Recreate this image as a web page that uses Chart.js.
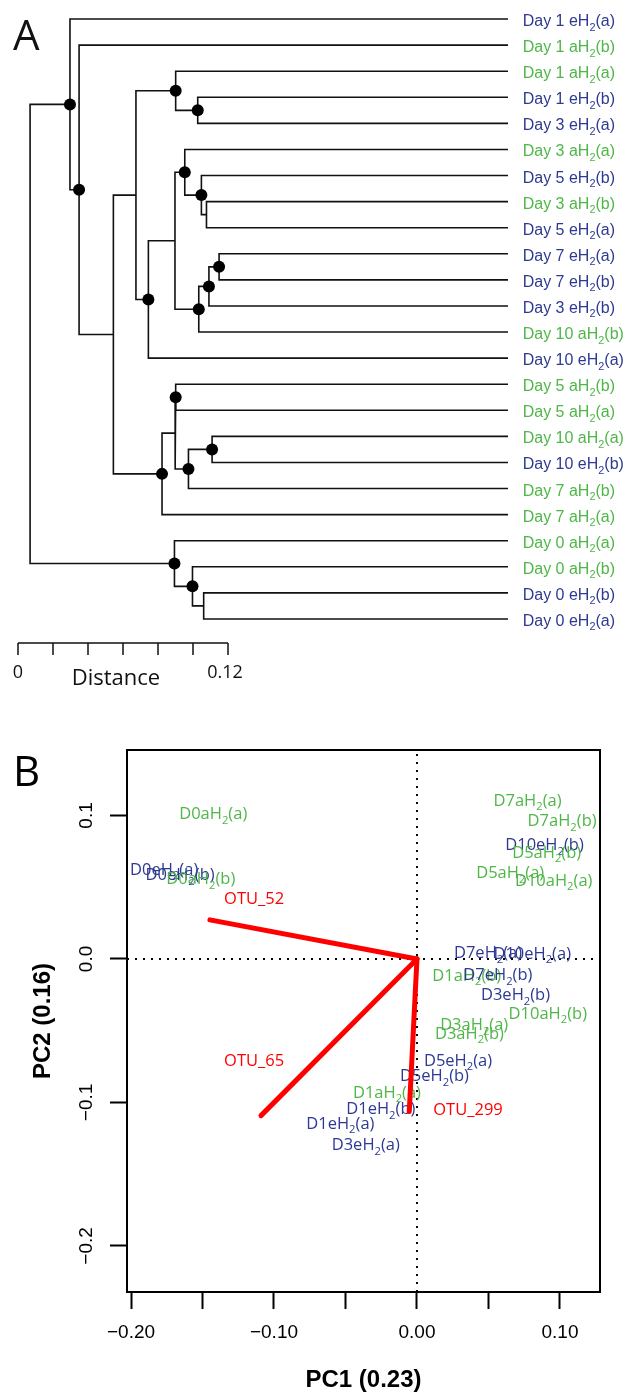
<!DOCTYPE html>
<html>
<head>
<meta charset="utf-8">
<script src="https://cdn.jsdelivr.net/npm/chart.js@4.4.0/dist/chart.umd.min.js"></script>
<style>
  html, body { margin: 0; padding: 0; background: #fff; }
  #wrap { position: relative; width: 626px; height: 1395px; }
  canvas { position: absolute; left: 0; }
  #tree { top: 0; }
  #pca { top: 690px; }
</style>
</head>
<body>
<div id="wrap">
  <canvas id="tree" width="626" height="690"></canvas>
  <canvas id="pca" width="626" height="705"></canvas>
</div>
<script>
// ---------- panel A : dendrogram ----------
const leafNames = ['Day 1 eH2(a)', 'Day 1 aH2(b)', 'Day 1 aH2(a)', 'Day 1 eH2(b)', 'Day 3 eH2(a)',
    'Day 3 aH2(a)', 'Day 5 eH2(b)', 'Day 3 aH2(b)', 'Day 5 eH2(a)', 'Day 7 eH2(a)', 'Day 7 eH2(b)',
    'Day 3 eH2(b)', 'Day 10 aH2(b)', 'Day 10 eH2(a)', 'Day 5 aH2(b)', 'Day 5 aH2(a)', 'Day 10 aH2(a)',
    'Day 10 eH2(b)', 'Day 7 aH2(b)', 'Day 7 aH2(a)', 'Day 0 aH2(a)', 'Day 0 aH2(b)', 'Day 0 eH2(b)',
    'Day 0 eH2(a)'];

// merges like hclust: negative = leaf number, positive = earlier merge
const mergeLeft  = [-4, -3, -8, -7, -6, -10, 6, 7, 5, 9, 2, -15, -17, 13, 12, 15, 11, -2, -1, -23, -22, -21, 19];
const mergeRight = [-5, 1, -9, 3, 4, -11, -12, -13, 8, -14, 10, -16, -18, -19, 14, -20, 16, 17, 18, -24, 20, 21, 22];
// distance from the left of the scale bar to each node
const mergeDist  = [0.1027, 0.0901, 0.1077, 0.1048, 0.0953, 0.1149, 0.1091, 0.1033, 0.0897, 0.0745, 0.0674,
    0.0901, 0.1109, 0.0974, 0.0898, 0.0823, 0.0545, 0.0349, 0.0297, 0.1061, 0.0997, 0.0894, 0.0069];
// 1 = node marked with a filled circle
const mergeDot   = [1, 1, 0, 1, 1, 1, 1, 1, 0, 1, 0, 1, 1, 1, 0, 1, 0, 1, 1, 0, 1, 1, 0];
const tipDist = 0.28;
const scaleBarTicks = [0, 0.02, 0.04, 0.06, 0.08, 0.10, 0.12];

// ---------- panel B : PCA biplot ----------
const sampleNames = ['D0aH2(a)', 'D0eH2(a)', 'D0eH2(b)', 'D0aH2(b)', 'D7aH2(a)', 'D7aH2(b)', 'D10eH2(b)',
    'D5aH2(b)', 'D5aH2(a)', 'D10aH2(a)', 'D7eH2(a)', 'D10eH2(a)', 'D1aH2(b)', 'D7eH2(b)', 'D3eH2(b)',
    'D10aH2(b)', 'D3aH2(a)', 'D3aH2(b)', 'D5eH2(a)', 'D5eH2(b)', 'D1aH2(a)', 'D1eH2(b)', 'D1eH2(a)',
    'D3eH2(a)'];
const pc1 = [-0.1425, -0.1768, -0.1657, -0.1512, 0.0773, 0.1015, 0.0892, 0.0907, 0.0652, 0.0956, 0.0497,
    0.0806, 0.0348, 0.0566, 0.0689, 0.0915, 0.0400, 0.0367, 0.0287, 0.0122, -0.0210, -0.0253, -0.0536, -0.0358];
const pc2 = [0.1015, 0.0629, 0.0592, 0.0560, 0.1108, 0.0965, 0.0801, 0.0746, 0.0603, 0.0551, 0.0047,
    0.0042, -0.0111, -0.0105, -0.0247, -0.0376, -0.0456, -0.0514, -0.0704, -0.0812, -0.0925, -0.1040, -0.1141, -0.1293];

const otuNames = ['OTU_52', 'OTU_65', 'OTU_299'];
const otuPC1 = [-0.1448, -0.1091, -0.0054];
const otuPC2 = [0.0272, -0.1092, -0.1064];
const otuLabelPC1 = [-0.1139, -0.1139, 0.0357];
const otuLabelPC2 = [0.0422, -0.0704, -0.1045];

const xTickValues = [-0.20, -0.15, -0.10, -0.05, 0.00, 0.05, 0.10];
const xTickText = ['\u22120.20', '', '\u22120.10', '', '0.00', '', '0.10'];
const yTickValues = [-0.2, -0.1, 0.0, 0.1];
const yTickText = ['\u22120.2', '\u22120.1', '0.0', '0.1'];

const BLUE = '#2e3a92';
const GREEN = '#4fb748';
const RED = '#ff0000';
const ARIAL = "'Liberation Sans', Arial, sans-serif";
const MYRIAD = "'Open Sans', sans-serif";

function groupColor(name) {
    return name.indexOf('aH') >= 0 ? GREEN : BLUE;
}

// text with H2 drawn as H subscript 2
function drawRichLabel(ctx, text, x, y, size, family, color, align) {
    const m = /^(.*H)2(.*)$/.exec(text);
    const parts = m ? [[m[1], size, 0], ['2', size * 0.68, size * 0.28], [m[2], size, 0]] : [[text, size, 0]];
    let w = 0;
    parts.forEach(p => {
        ctx.font = p[1] + 'px ' + family;
        p.push(ctx.measureText(p[0]).width);
        w += p[3];
    });
    let cx = align === 'center' ? x - w / 2 : x;
    ctx.fillStyle = color;
    ctx.textAlign = 'left';
    ctx.textBaseline = 'alphabetic';
    parts.forEach(p => {
        ctx.font = p[1] + 'px ' + family;
        ctx.fillText(p[0], cx, y + p[2]);
        cx += p[3];
    });
}

const textLabelPlugin = {
    id: 'textLabels',
    afterDatasetDraw(chart, args) {
        const ds = chart.data.datasets[args.index];
        if (!ds.textLabels) return;
        const ctx = chart.ctx;
        ctx.save();
        args.meta.data.forEach((pt, i) => {
            drawRichLabel(ctx, ds.textLabels[i], pt.x + ds.textDx, pt.y + ds.textDy,
                ds.textSize, ds.textFont, ds.textColors[i], ds.textAlign);
        });
        ctx.restore();
    }
};

// ---------- build tree ----------
const nodeY = [];
function childPos(c) {
    return c < 0 ? {x: tipDist, y: -c} : {x: mergeDist[c - 1], y: nodeY[c - 1]};
}

const treeDatasets = [];
const dotPoints = [];
for (let k = 0; k < mergeLeft.length; ++k) {
    const a = childPos(mergeLeft[k]);
    const b = childPos(mergeRight[k]);
    nodeY[k] = (a.y + b.y) / 2;
    treeDatasets.push({
        data: [{x: a.x, y: a.y}, {x: mergeDist[k], y: a.y}, {x: mergeDist[k], y: b.y}, {x: b.x, y: b.y}],
        showLine: true,
        borderColor: '#111',
        borderWidth: 1.6,
        pointRadius: 0,
    });
    if (mergeDot[k]) dotPoints.push({x: mergeDist[k], y: nodeY[k]});
}

treeDatasets.unshift({
    data: dotPoints,
    pointRadius: 6,
    pointBackgroundColor: '#000',
    pointBorderWidth: 0,
});

treeDatasets.push({
    data: leafNames.map((n, i) => ({x: tipDist, y: i + 1})),
    pointRadius: 0,
    textLabels: leafNames,
    textColors: leafNames.map(groupColor),
    textDx: 14.7,
    textDy: 7,
    textSize: 16,
    textFont: ARIAL,
    textAlign: 'left',
});

const treeDecor = {
    id: 'treeDecor',
    afterDraw(chart) {
        const ctx = chart.ctx;
        const xs = chart.scales.x;
        const yBar = chart.chartArea.bottom + 11;
        ctx.save();
        ctx.strokeStyle = '#111';
        ctx.lineWidth = 1.5;
        ctx.beginPath();
        ctx.moveTo(xs.getPixelForValue(scaleBarTicks[0]), yBar);
        ctx.lineTo(xs.getPixelForValue(scaleBarTicks[scaleBarTicks.length - 1]), yBar);
        scaleBarTicks.forEach(t => {
            const px = xs.getPixelForValue(t);
            ctx.moveTo(px, yBar);
            ctx.lineTo(px, yBar + 12);
        });
        ctx.stroke();

        ctx.fillStyle = '#111';
        ctx.textAlign = 'center';
        ctx.textBaseline = 'alphabetic';
        ctx.font = '18px ' + MYRIAD;
        ctx.fillText('0', xs.getPixelForValue(0), yBar + 35);
        ctx.fillText('0.12', xs.getPixelForValue(0.12) - 3, yBar + 35);
        ctx.font = '22px ' + MYRIAD;
        const mid = (xs.getPixelForValue(0) + xs.getPixelForValue(0.12)) / 2;
        ctx.fillText('Distance', mid - 7, yBar + 42);

        ctx.textAlign = 'left';
        ctx.font = '42px ' + MYRIAD;
        ctx.fillText('A', 13, 50);
        ctx.restore();
    }
};

new Chart(document.getElementById('tree'), {
    type: 'scatter',
    data: {datasets: treeDatasets},
    options: {
        responsive: false,
        animation: false,
        devicePixelRatio: 1,
        events: [],
        layout: {padding: {left: 18, right: 6, top: 2, bottom: 58}},
        scales: {
            x: {type: 'linear', min: 0, max: 0.12 * 602 / 210, display: false},
            y: {type: 'linear', min: 0.5, max: 24.5, reverse: true, display: false},
        },
        plugins: {legend: {display: false}, tooltip: {enabled: false}},
    },
    plugins: [textLabelPlugin, treeDecor],
});

// ---------- build biplot ----------
const X_MIN = -0.2028, X_MAX = 0.1280, Y_MIN = -0.2321, Y_MAX = 0.1456;

const pcaDatasets = [];
otuNames.forEach((n, i) => {
    pcaDatasets.push({
        data: [{x: 0, y: 0}, {x: otuPC1[i], y: otuPC2[i]}],
        showLine: true,
        borderColor: RED,
        borderWidth: 5,
        borderCapStyle: 'round',
        pointRadius: 0,
    });
});
pcaDatasets.push({
    data: otuNames.map((n, i) => ({x: otuLabelPC1[i], y: otuLabelPC2[i]})),
    pointRadius: 0,
    textLabels: otuNames,
    textColors: otuNames.map(() => RED),
    textDx: 0, textDy: 5.9, textSize: 16.5, textFont: MYRIAD, textAlign: 'center',
});
pcaDatasets.push({
    data: sampleNames.map((n, i) => ({x: pc1[i], y: pc2[i]})),
    pointRadius: 0,
    textLabels: sampleNames,
    textColors: sampleNames.map(groupColor),
    textDx: 0, textDy: 5.9, textSize: 16.5, textFont: MYRIAD, textAlign: 'center',
});
pcaDatasets.push({
    data: [{x: X_MIN, y: 0}, {x: X_MAX, y: 0}],
    showLine: true, borderColor: '#000', borderWidth: 2, borderDash: [2, 6], pointRadius: 0,
});
pcaDatasets.push({
    data: [{x: 0, y: Y_MIN}, {x: 0, y: Y_MAX}],
    showLine: true, borderColor: '#000', borderWidth: 2, borderDash: [2, 6], pointRadius: 0,
});

const pcaDecor = {
    id: 'pcaDecor',
    afterDraw(chart) {
        const ctx = chart.ctx;
        const a = chart.chartArea;
        ctx.save();
        ctx.strokeStyle = '#000';
        ctx.lineWidth = 2;
        ctx.strokeRect(a.left, a.top, a.right - a.left, a.bottom - a.top);
        ctx.fillStyle = '#000';
        ctx.textAlign = 'left';
        ctx.textBaseline = 'alphabetic';
        ctx.font = '42px ' + MYRIAD;
        ctx.fillText('B', 13, 96);
        ctx.restore();
    }
};

const tickGrid = {
    display: true,
    drawOnChartArea: false,
    drawTicks: true,
    tickLength: 17,
    tickWidth: 2,
    tickColor: '#000',
};

new Chart(document.getElementById('pca'), {
    type: 'scatter',
    data: {datasets: pcaDatasets},
    options: {
        responsive: false,
        animation: false,
        devicePixelRatio: 1,
        events: [],
        layout: {padding: {left: 0, right: 26, top: 60, bottom: 0}},
        scales: {
            x: {
                type: 'linear', min: X_MIN, max: X_MAX,
                afterBuildTicks: ax => { ax.ticks = xTickValues.map(v => ({value: v})); },
                afterFit: ax => { ax.height = 103; },
                grid: tickGrid,
                border: {display: false},
                ticks: {
                    callback: (v, i) => xTickText[i],
                    autoSkip: false, maxRotation: 0, padding: 12,
                    color: '#000', font: {family: ARIAL, size: 19},
                },
                title: {
                    display: true, text: 'PC1 (0.23)', color: '#000',
                    font: {family: ARIAL, size: 24, weight: 'bold'},
                    padding: {top: 0, bottom: 0},
                },
            },
            y: {
                type: 'linear', min: Y_MIN, max: Y_MAX,
                afterBuildTicks: ax => { ax.ticks = yTickValues.map(v => ({value: v})); },
                afterFit: ax => { ax.width = 127; },
                grid: tickGrid,
                border: {display: false},
                ticks: {
                    callback: (v, i) => yTickText[i],
                    autoSkip: false, minRotation: 90, maxRotation: 90, crossAlign: 'center', padding: 4,
                    color: '#000', font: {family: ARIAL, size: 19},
                },
                title: {
                    display: true, text: 'PC2 (0.16)', color: '#000',
                    font: {family: ARIAL, size: 24, weight: 'bold'},
                    padding: {top: 28.6, bottom: 0},
                },
            },
        },
        plugins: {legend: {display: false}, tooltip: {enabled: false}},
    },
    plugins: [textLabelPlugin, pcaDecor],
});
</script>
</body>
</html>
